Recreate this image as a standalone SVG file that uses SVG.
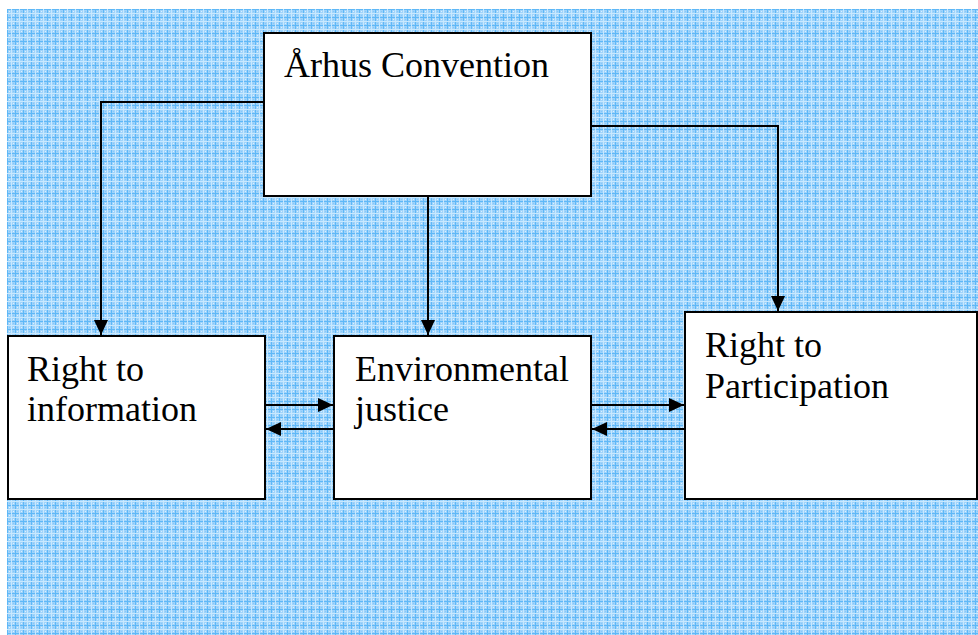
<svg xmlns="http://www.w3.org/2000/svg" width="978" height="635" viewBox="0 0 978 635">
<style>
.box{fill:#fff;stroke:#000;stroke-width:2}
.lbl{font-family:"Liberation Serif","Times New Roman",serif;font-size:36px;fill:#000}
.con{fill:none;stroke:#000;stroke-width:2}
</style>
<defs>
<pattern id="plaid" x="7" y="9" width="8" height="8" patternUnits="userSpaceOnUse">
<rect width="8" height="8" fill="#9fd3fb"/>
<rect x="0" y="0" width="1" height="8" fill="#5fb8f7"/>
<rect x="0" y="0" width="8" height="1" fill="#5fb8f7"/>
<rect x="4" y="0" width="1" height="8" fill="#c8e8fe"/>
<rect x="0" y="4" width="8" height="1" fill="#c8e8fe"/>
<rect x="2" y="2" width="1" height="1" fill="#dcf0fe"/>
<rect x="6" y="6" width="1" height="1" fill="#dcf0fe"/>
<rect x="2" y="6" width="1" height="1" fill="#84c8f9"/>
<rect x="6" y="2" width="1" height="1" fill="#84c8f9"/>
</pattern>
<marker id="ah" markerWidth="15" markerHeight="14" refX="15" refY="7" orient="auto" markerUnits="userSpaceOnUse">
<path d="M0,0 L15,7 L0,14 Z" fill="#000"/>
</marker>
</defs>
<rect x="7" y="9" width="971" height="626" fill="url(#plaid)"/>
<g id="connectors">
<path class="con" d="M264,102 H101 V335" marker-end="url(#ah)"/>
<path class="con" d="M591,126 H778 V311" marker-end="url(#ah)"/>
<path class="con" d="M428,196 V335" marker-end="url(#ah)"/>
<path class="con" d="M265,405 H333" marker-end="url(#ah)"/>
<path class="con" d="M334,429 H266" marker-end="url(#ah)"/>
<path class="con" d="M591,405 H684" marker-end="url(#ah)"/>
<path class="con" d="M685,429 H592" marker-end="url(#ah)"/>
</g>
<g id="aarhus">
<rect class="box" x="264" y="33" width="327" height="163"/>
<text class="lbl" x="284" y="77">Århus Convention</text>
</g>
<g id="information">
<rect class="box" x="8" y="336" width="257" height="163"/>
<text class="lbl" x="27" y="381">Right to</text>
<text class="lbl" x="27" y="421">information</text>
</g>
<g id="justice">
<rect class="box" x="334" y="336" width="257" height="163"/>
<text class="lbl" x="355" y="381">Environmental</text>
<text class="lbl" x="355" y="421">justice</text>
</g>
<g id="participation">
<rect class="box" x="685" y="312" width="292" height="187"/>
<text class="lbl" x="705" y="357">Right to</text>
<text class="lbl" x="705" y="398">Participation</text>
</g>
</svg>
